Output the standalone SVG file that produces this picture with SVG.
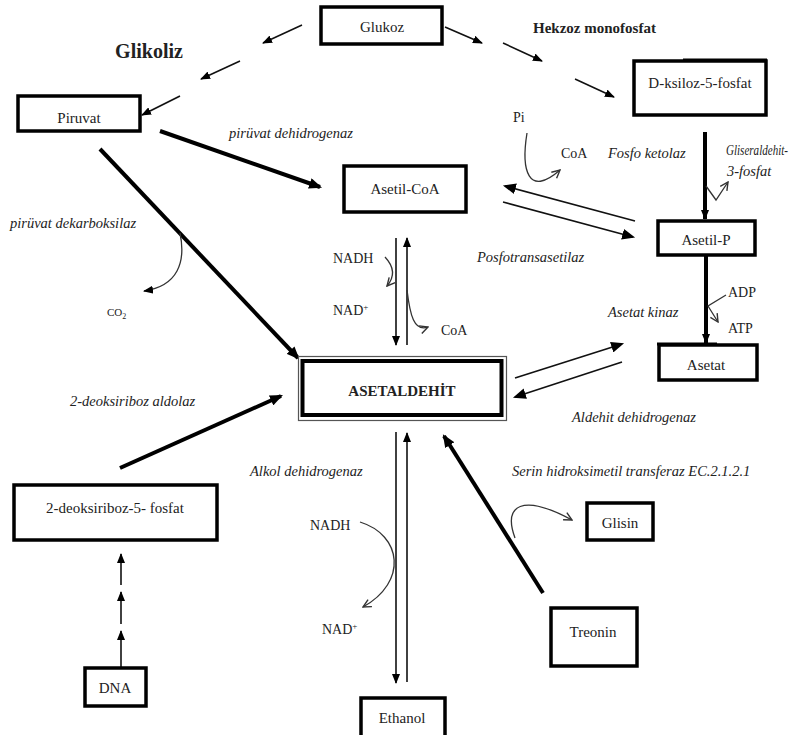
<svg xmlns="http://www.w3.org/2000/svg" width="795" height="735" viewBox="0 0 795 735" font-family="'Liberation Serif', 'DejaVu Serif', serif">
<style>
text{font-family:'Liberation Serif','DejaVu Serif',serif;fill:#222;}
.lbl{font-size:15px;text-anchor:middle;}
.it{font-size:14.5px;font-style:italic;}
.sm{font-size:14px;}
.bold{font-weight:bold;}
.box{fill:#fff;stroke:#000;stroke-width:3.5;}
.ln{stroke:#111;stroke-width:1.6;fill:none;}
.thk{stroke:#000;stroke-width:4;fill:none;}
.cv{stroke:#333;stroke-width:1.3;fill:none;}
</style>
<defs>
<marker id="ah" viewBox="0 0 10 8" refX="9" refY="4" markerWidth="10" markerHeight="8" markerUnits="userSpaceOnUse" orient="auto"><path d="M0,0 L10,4 L0,8 Z" fill="#000"/></marker>
<marker id="ahT" viewBox="0 0 12 10" refX="10" refY="5" markerWidth="13" markerHeight="11" markerUnits="userSpaceOnUse" orient="auto"><path d="M0,0 L12,5 L0,10 Z" fill="#000"/></marker>
<marker id="op" viewBox="0 0 10 10" refX="9" refY="5" markerWidth="10" markerHeight="10" markerUnits="userSpaceOnUse" orient="auto"><path d="M1,1 L9,5 L1,9" fill="none" stroke="#333" stroke-width="1.4"/></marker>
</defs>

<g id="connectors">
<line class="ln" x1="302" y1="25" x2="263" y2="43" marker-end="url(#ah)"/>
<line class="ln" x1="240" y1="61" x2="201" y2="79" marker-end="url(#ah)"/>
<line class="ln" x1="180" y1="96" x2="142" y2="115" marker-end="url(#ah)"/>
<line class="ln" x1="445" y1="27" x2="482" y2="43" marker-end="url(#ah)"/>
<line class="ln" x1="503" y1="43" x2="542" y2="61" marker-end="url(#ah)"/>
<line class="ln" x1="575" y1="79" x2="614" y2="97" marker-end="url(#ah)"/>
<line class="thk" x1="160" y1="131" x2="320" y2="187" marker-end="url(#ahT)"/>
<line class="thk" x1="100" y1="149" x2="298" y2="358" stroke-width="3.5" marker-end="url(#ahT)"/>
<path class="cv" d="M180,233 C186,262 178,286 144,291" marker-end="url(#ah)"/>
<path class="cv" d="M527,133 C521,170 528,198 560,170" marker-end="url(#op)"/>
<line class="thk" x1="705" y1="132" x2="705" y2="219" stroke-width="3" marker-end="url(#ah)"/>
<path class="cv" d="M706,186 L716,200 L728,182" marker-end="url(#op)"/>
<line class="thk" x1="706" y1="256" x2="706" y2="343" stroke-width="2.5" marker-end="url(#ah)"/>
<path class="cv" d="M726,295 L708,306 L718,322" marker-end="url(#op)"/>
<line class="ln" x1="635" y1="221" x2="505" y2="186" marker-end="url(#ahT)"/>
<line class="ln" x1="503" y1="202" x2="633" y2="237" marker-end="url(#ahT)"/>
<line class="ln" x1="396" y1="238" x2="396" y2="345" marker-end="url(#ah)"/>
<line class="ln" x1="407" y1="345" x2="407" y2="238" marker-end="url(#ah)"/>
<path class="cv" d="M385,257 Q399,272 387,286" marker-end="url(#op)"/>
<path class="cv" d="M407,290 C410,315 414,332 428,327" marker-end="url(#op)"/>
<line class="ln" x1="515" y1="378" x2="622" y2="344" marker-end="url(#ahT)"/>
<line class="ln" x1="622" y1="362" x2="515" y2="397" marker-end="url(#ahT)"/>
<line class="thk" x1="120" y1="468" x2="281" y2="396" marker-end="url(#ahT)"/>
<line class="ln" x1="121" y1="667" x2="121" y2="631" stroke-width="1.3" marker-end="url(#ah)"/>
<line class="ln" x1="121" y1="624" x2="121" y2="592" stroke-width="1.3" marker-end="url(#ah)"/>
<line class="ln" x1="121" y1="585" x2="121" y2="554" stroke-width="1.3" marker-end="url(#ah)"/>
<line class="ln" x1="396" y1="432" x2="396" y2="683" marker-end="url(#ah)"/>
<line class="ln" x1="407" y1="682" x2="407" y2="433" stroke-width="1.2" marker-end="url(#ah)"/>
<path class="cv" d="M360,522 C402,535 408,582 363,607" marker-end="url(#op)"/>
<line class="thk" x1="543" y1="593" x2="444" y2="436" stroke-width="3.5" marker-end="url(#ahT)"/>
<path class="cv" d="M515,538 C503,505 522,493 572,520" marker-end="url(#op)"/>
</g>

<g id="n-glukoz"><rect class="box" x="321" y="7" width="121" height="37"/><text class="lbl" x="382" y="32">Glukoz</text></g>
<g id="n-piruvat"><rect class="box" x="18" y="96" width="122" height="35"/><text class="lbl" x="79" y="123">Piruvat</text></g>
<g id="n-dksiloz"><rect class="box" x="634" y="61" width="132" height="54"/><line x1="683" y1="60" x2="767" y2="60" stroke="#000" stroke-width="3"/><text class="lbl" x="700" y="88">D-ksiloz-5-fosfat</text></g>
<g id="n-asetilcoa"><rect class="box" x="344" y="166" width="122" height="46"/><text class="lbl" x="405" y="194">Asetil-CoA</text></g>
<g id="n-asetilp"><rect class="box" x="658" y="221" width="97" height="34"/><text class="lbl" x="706" y="245">Asetil-P</text></g>
<g id="n-asetat"><rect class="box" x="659" y="345" width="98" height="35" stroke-width="2.5"/><line x1="657" y1="344" x2="717" y2="344" stroke="#000" stroke-width="3"/><text class="lbl" x="706" y="370">Asetat</text></g>
<g id="n-asetaldehit"><rect x="298.5" y="356.5" width="208" height="64" fill="#fff" stroke="#555" stroke-width="1.2"/><rect x="302.5" y="361" width="199" height="54" fill="#fff" stroke="#000" stroke-width="4"/><text class="lbl bold" x="402" y="396" font-size="19">ASETALDEHİT</text></g>
<g id="n-deoksiriboz"><rect class="box" x="14" y="485" width="203" height="55"/><text class="lbl" x="115" y="513">2-deoksiriboz-5- fosfat</text></g>
<g id="n-dna"><rect class="box" x="85" y="668" width="61" height="38"/><text class="lbl" x="115" y="693">DNA</text></g>
<g id="n-glisin"><rect class="box" x="587" y="503" width="66" height="37"/><text class="lbl" x="620" y="528">Glisin</text></g>
<g id="n-treonin"><rect class="box" x="551" y="608" width="86" height="58" stroke-width="4"/><text class="lbl" x="593" y="637">Treonin</text></g>
<g id="n-ethanol"><rect class="box" x="361" y="698" width="84" height="40"/><text class="lbl" x="402" y="723">Ethanol</text></g>

<g id="labels">
<text class="bold" x="149" y="58" font-size="20" text-anchor="middle">Glikoliz</text>
<text class="bold" x="533" y="33" font-size="15">Hekzoz monofosfat</text>
<text class="it" x="229" y="138">pirüvat dehidrogenaz</text>
<text class="sm" x="513" y="122">Pi</text>
<text class="sm" x="561" y="158">CoA</text>
<text class="it" x="608" y="158">Fosfo ketolaz</text>
<text class="it" x="726" y="155" font-size="12" textLength="62" lengthAdjust="spacingAndGlyphs">Gliseraldehit-</text>
<text class="it" x="727" y="176" font-size="13">3-fosfat</text>
<text class="it" x="10" y="228">pirüvat dekarboksilaz</text>
<text x="107" y="316" font-size="11">CO<tspan dy="3" font-size="8">2</tspan></text>
<text class="sm" x="333" y="263">NADH</text>
<text class="sm" x="333" y="315">NAD<tspan dy="-5" font-size="9">+</tspan></text>
<text class="sm" x="441" y="335">CoA</text>
<text class="it" x="477" y="262">Posfotransasetilaz</text>
<text class="sm" x="728" y="297">ADP</text>
<text class="sm" x="728" y="333">ATP</text>
<text class="it" x="608" y="317">Asetat kinaz</text>
<text class="it" x="572" y="422">Aldehit dehidrogenaz</text>
<text class="it" x="70" y="406">2-deoksiriboz aldolaz</text>
<text class="it" x="250" y="476">Alkol dehidrogenaz</text>
<text class="it" x="512" y="476" font-size="13.5">Serin hidroksimetil transferaz EC.2.1.2.1</text>
<text class="sm" x="310" y="530">NADH</text>
<text class="sm" x="322" y="634">NAD<tspan dy="-5" font-size="9">+</tspan></text>
</g>
</svg>
